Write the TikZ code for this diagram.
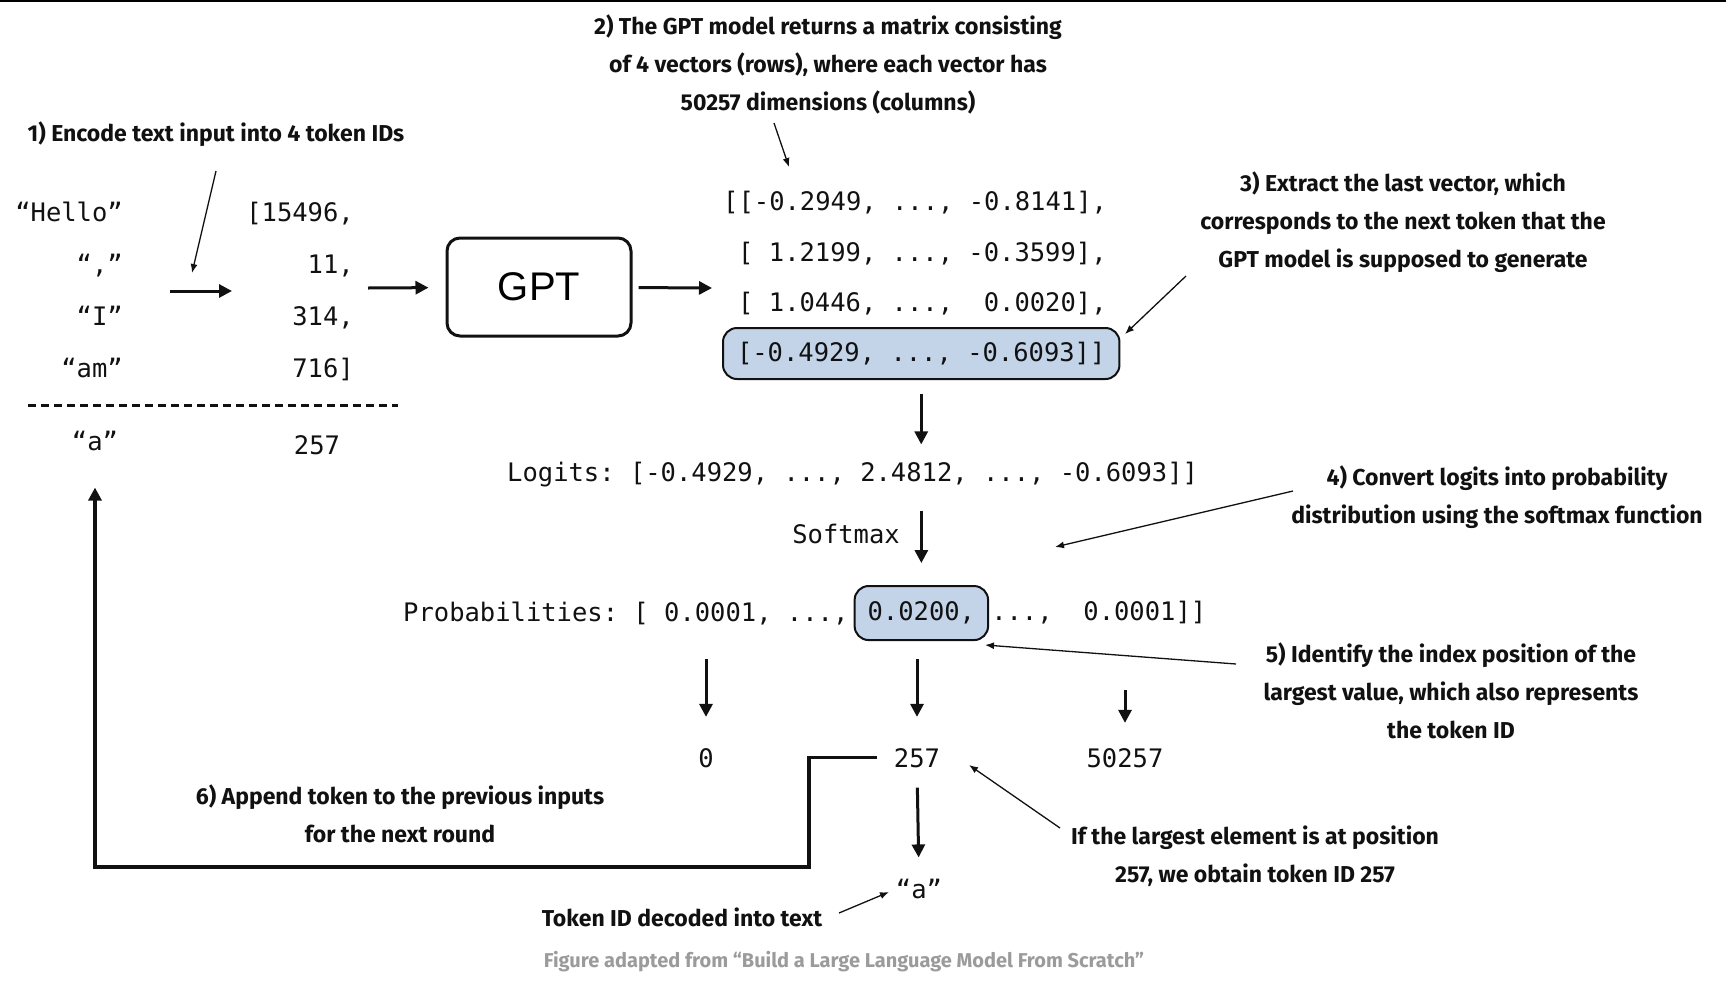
\documentclass[tikz,border=0pt]{standalone}
\usepackage{fontspec}
\usepackage{xcolor}
\usepackage{tikz}
\usetikzlibrary{arrows.meta,positioning}
\newfontfamily\monofont{DejaVu Sans Mono}
\newfontfamily\notefont{Fira Sans}
\newfontfamily\boxfont{Liberation Sans}
\definecolor{ink}{HTML}{111111}
\definecolor{hl}{HTML}{C3D4E9}
\definecolor{capgray}{HTML}{9B9B9B}
\tikzset{
  code/.style={font=\monofont\fontsize{25.5}{30}\selectfont\frenchspacing, inner sep=0pt, text=ink},
  note/.style={font=\notefont\bfseries\fontsize{23}{38}\selectfont, align=center, inner sep=0pt, text=ink},
  hlbox/.style={code, draw=ink, fill=hl, line width=2pt, rounded corners=14pt},
  big/.style={draw=ink, line width=3pt, -{Triangle[length=13pt,width=13pt]}},
  thin/.style={draw=ink, line width=1.3pt, -{Latex[length=9pt,width=7pt]}},
}

\begin{document}
\begin{tikzpicture}[x=1pt,y=-1pt]
  \useasboundingbox (0,0) rectangle (1726,996);
  \draw[line width=2pt] (0,1) -- (1726,1);

  \node[note] (n1) at (216,134) {1) Encode text input into 4 token IDs};
  \node[note] (n2) at (828,64) {2) The GPT model returns a matrix consisting\\of 4 vectors (rows), where each vector has\\50257 dimensions (columns)};
  \node[note] (n3) at (1403,222) {3) Extract the last vector, which\\corresponds to the next token that the\\GPT model is supposed to generate};
  \node[note] (n4) at (1497,497) {4) Convert logits into probability\\distribution using the softmax function};
  \node[note] (n5) at (1451,691) {5) Identify the index position of the\\largest value, which also represents\\the token ID};
  \node[note] (n6) at (400,814) {6) Append token to the previous inputs\\for the next round};
  \node[note] (n7) at (1255,856) {If the largest element is at position\\257, we obtain token ID 257};
  \node[note] (n8) at (682,917) {Token ID decoded into text};
  \node[note,text=capgray,font=\notefont\bfseries\fontsize{20}{24}\selectfont] (src) at (844,962) {Figure adapted from “Build a Large Language Model From Scratch”};

  \node[code,anchor=base east] (w1) at (123,221) {“Hello”};
  \node[code,anchor=base east] (w2) at (123,273) {“,”};
  \node[code,anchor=base east] (w3) at (123,325) {“I”};
  \node[code,anchor=base east] (w4) at (123,377) {“am”};
  \node[code,anchor=base east] (i1) at (354,221) {[15496,};
  \node[code,anchor=base east] (i2) at (354,273) {11,};
  \node[code,anchor=base east] (i3) at (354,325) {314,};
  \node[code,anchor=base east] (i4) at (354,377) {716]};
  \draw[ink, line width=3pt, dash pattern=on 8pt off 5pt] (28,405) -- (398,405);
  \node[code,anchor=base] (a0) at (95,450) {“a”};
  \node[code,anchor=base] (id0) at (317,454) {257};

  \node[draw=ink, line width=3pt, rounded corners=13pt, minimum width=184pt, minimum height=98pt,
        font=\boxfont\fontsize{40}{48}\selectfont] (gpt) at (539,287) {GPT};

  \node[code,anchor=base west] (r1) at (723,210) {[[-0.2949, ..., -0.8141],};
  \node[code,anchor=base west] (r2) at (738,261) {[ 1.2199, ..., -0.3599],};
  \node[code,anchor=base west] (r3) at (738,311) {[ 1.0446, ...,~ 0.0020],};
  \node[hlbox, inner xsep=14pt, minimum height=51pt, anchor=west] (last) at (722,353.5) {[-0.4929, ..., -0.6093]]};

  \node[code,anchor=base west] (logits) at (507,481) {Logits: [-0.4929, ..., 2.4812, ..., -0.6093]]};
  \node[code,anchor=base east] (sm) at (900,543) {Softmax};

  \node[code,anchor=base west] (probL) at (403,621) {Probabilities: [ 0.0001, ...,};
  \node[hlbox, inner xsep=13pt, minimum height=54pt, anchor=west] (probM) at ([xshift=5pt]probL.east) {0.0200,};
  \node[code, right=2pt of probM] (probR) {...,~ 0.0001]]};

  \node[code,anchor=base] (n0) at (706,767) {0};
  \node[code,anchor=base] (n257) at (917,767) {257};
  \node[code,anchor=base] (n50257) at (1125,767) {50257};
  \node[code,anchor=base] (aout) at (919,898) {“a”};

  \coordinate (p1) at (216,171);   \coordinate (q1) at (192,273);
  \coordinate (p2) at (774,123);   \coordinate (q2) at (789,167);
  \coordinate (p3) at (1186,276);  \coordinate (q3) at (1125,334);
  \coordinate (p4) at (1293,491);  \coordinate (q4) at (1055,547);
  \coordinate (p5) at (1236,664);  \coordinate (q5) at (985,645);
  \coordinate (p7) at (1060,828);  \coordinate (q7) at (969,765);
  \coordinate (p8) at (839,913);   \coordinate (q8) at (889,892);
  \coordinate (s1) at (170,291);   \coordinate (e1) at (232,291);
  \coordinate (s2) at (368,288);   \coordinate (e3) at (712,288);

  \draw[thin] (p1) -- (q1);
  \draw[thin] (p2) -- (q2);
  \draw[thin] (p3) -- (q3);
  \draw[thin] (p4) -- (q4);
  \draw[thin] (p5) -- (q5);
  \draw[thin] (p7) -- (q7);
  \draw[thin] (p8) -- (q8);

  \draw[big] (s1) -- (e1);
  \draw[big, shorten >=17pt] (s2) -- (gpt);
  \draw[big, shorten <=6pt] (gpt) -- (e3);
  \draw[big, shorten <=14pt, shorten >=17pt] (last.south) -- (last.south |- logits.north);
  \draw[big, shorten <=24pt, shorten >=22pt] (probM |- logits.south) -- (probM.north);
  \draw[big, shorten <=18pt, shorten >=31pt] (n0 |- probM.south) -- (n0.north);
  \draw[big, shorten <=18pt, shorten >=31pt] (n257 |- probM.south) -- (n257.north);
  \draw[big, shorten <=49pt, shorten >=25pt] (n50257 |- probM.south) -- (n50257.north);
  \draw[big, shorten <=20pt, shorten >=21pt] (n257.south) -- (aout.north);
  \draw[big, line width=3.5pt, shorten <=17pt, shorten >=37pt] (n257.west) -| (809,867) -| (a0);
\end{tikzpicture}
\end{document}
